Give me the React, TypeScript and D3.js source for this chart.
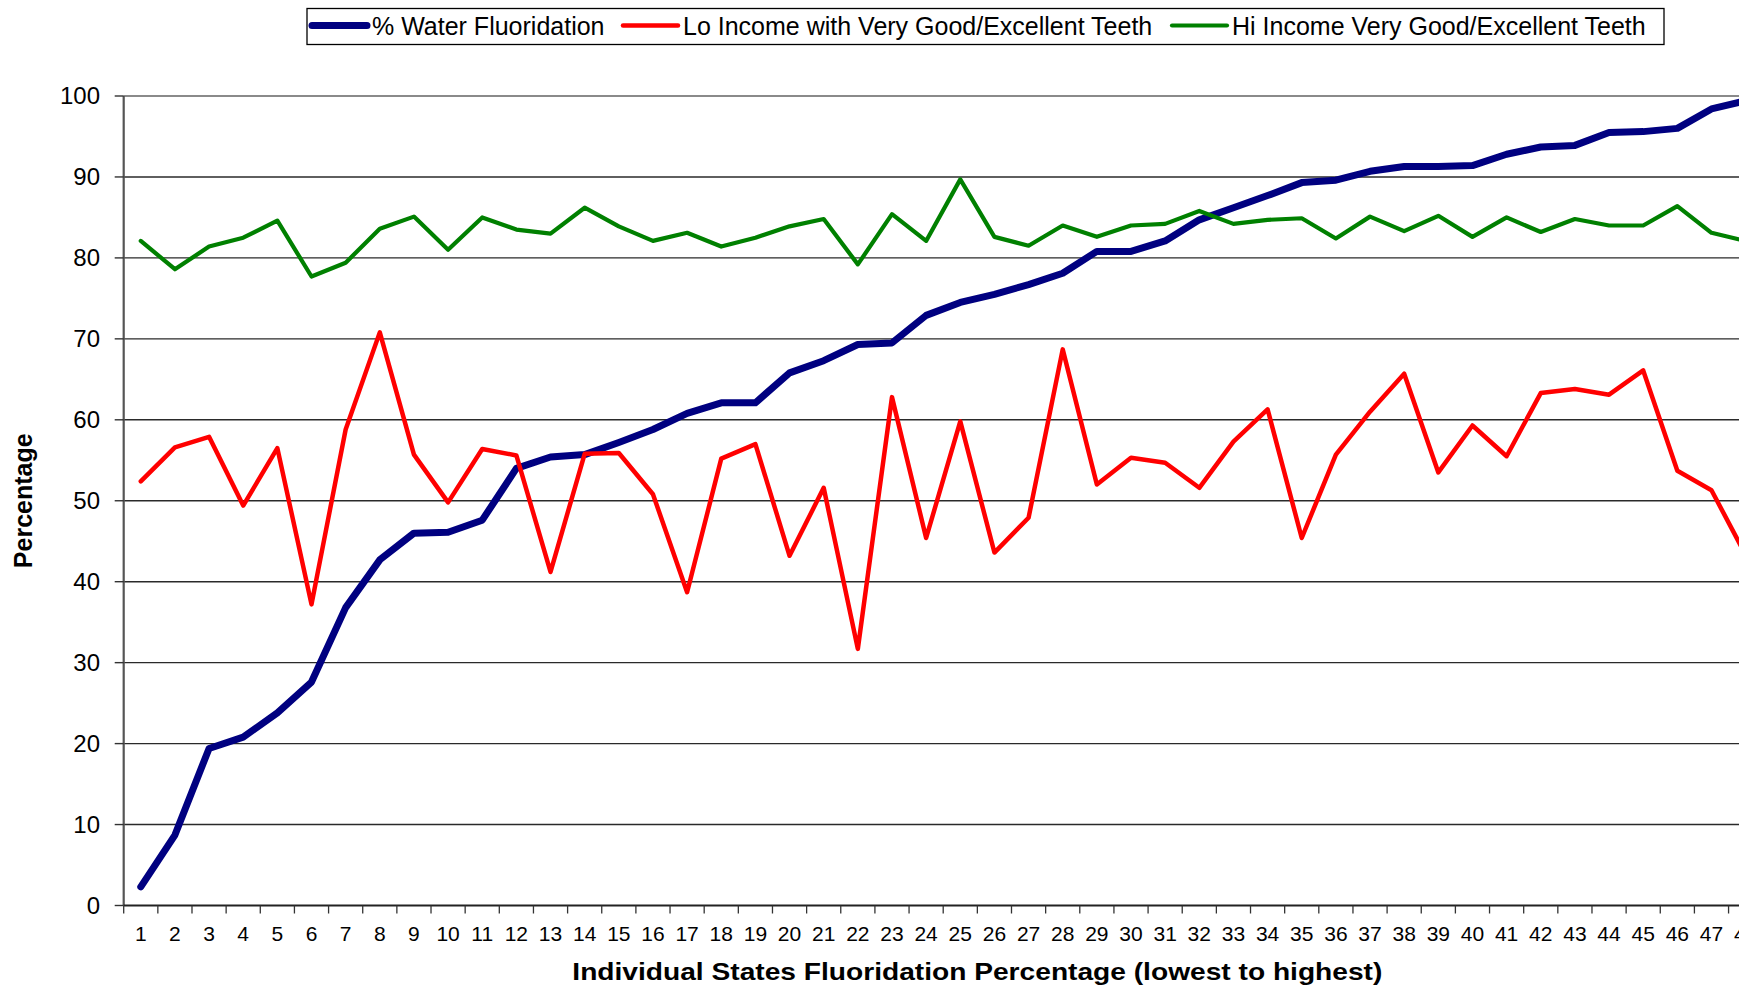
import React, { useEffect } from 'react';
import * as d3 from 'd3';

// states ranked by % of population on fluoridated water (lowest to highest)
const states = d3.range(1, 51);

const waterFluoridation = [
  2.3, 8.7, 19.4, 20.8, 23.8, 27.6, 36.8, 42.7, 46.0, 46.1,
  47.6, 54.0, 55.4, 55.7, 57.2, 58.8, 60.8, 62.1, 62.1, 65.8,
  67.3, 69.3, 69.5, 72.9, 74.5, 75.5, 76.7, 78.1, 80.8, 80.8,
  82.1, 84.7, 86.2, 87.7, 89.3, 89.6, 90.7, 91.3, 91.3, 91.4,
  92.8, 93.7, 93.9, 95.5, 95.6, 96.0, 98.4, 99.4,
];

const loIncomeTeeth = [
  52.4, 56.6, 57.9, 49.4, 56.5, 37.2, 58.8, 70.8, 55.7, 49.8,
  56.4, 55.6, 41.2, 55.8, 55.9, 50.8, 38.7, 55.2, 57.0, 43.2,
  51.6, 31.7, 62.8, 45.4, 59.8, 43.6, 47.9, 68.7, 52.0, 55.3,
  54.7, 51.6, 57.3, 61.3, 45.4, 55.7, 61.0, 65.7, 53.5, 59.3,
  55.5, 63.3, 63.8, 63.1, 66.1, 53.7, 51.3, 43.3,
];

const hiIncomeTeeth = [
  82.1, 78.6, 81.4, 82.5, 84.6, 77.7, 79.4, 83.6, 85.1, 81.0,
  85.0, 83.5, 83.0, 86.2, 83.9, 82.1, 83.1, 81.4, 82.5, 83.9,
  84.8, 79.2, 85.4, 82.1, 89.7, 82.6, 81.5, 84.0, 82.6, 84.0,
  84.2, 85.8, 84.2, 84.7, 84.9, 82.4, 85.1, 83.3, 85.2, 82.6,
  85.0, 83.2, 84.8, 84.0, 84.0, 86.4, 83.1, 82.1,
];

const yTicks = [0, 10, 20, 30, 40, 50, 60, 70, 80, 90, 100];

const seriesNames = [
  '% Water Fluoridation',
  'Lo Income with Very Good/Excellent Teeth',
  'Hi Income Very Good/Excellent Teeth',
];

const W = 1739;
const H = 989;
const left = 123.7;
const right = 1831; // plot runs past the picture edge
const top = 96;
const bottom = 905.5;

export default function App() {
  useEffect(() => {
    document.body.style.margin = '0';
  }, []);

  const x = d3
    .scaleBand<number>()
    .domain(states)
    .range([left, right])
    .padding(0);
  const bw = x.bandwidth();
  const y = d3.scaleLinear().domain([0, 100]).range([bottom, top]);

  const line = d3
    .line<number>()
    .x((d, i) => (x(states[i]) as number) + bw / 2)
    .y((d) => y(d));

  const series = [
    { name: seriesNames[0], values: waterFluoridation, color: '#000080', width: 7 },
    { name: seriesNames[1], values: loIncomeTeeth, color: '#FF0000', width: 4.5 },
    { name: seriesNames[2], values: hiIncomeTeeth, color: '#008000', width: 4.2 },
  ];

  const legendX = [312, 623, 1172];
  const font = 'Arial, "Liberation Sans", sans-serif';

  return (
    <svg
      width={W}
      height={H}
      style={{ position: 'absolute', left: 0, top: 0, background: '#fff' }}
      fontFamily={font}
    >
      <rect width={W} height={H} fill="#fff" />

      {/* gridlines */}
      {yTicks
        .filter((t) => t > 0 && t < 100)
        .map((t) => (
          <line
            key={'g' + t}
            x1={left}
            x2={right}
            y1={y(t)}
            y2={y(t)}
            stroke="#2a2a2a"
            strokeWidth={1.4}
          />
        ))}
      <line x1={left} x2={right} y1={y(100)} y2={y(100)} stroke="#8a8a8a" strokeWidth={2.2} />

      {/* y axis */}
      <line x1={left} x2={left} y1={top} y2={bottom} stroke="#555" strokeWidth={2.2} />
      {yTicks.map((t) => (
        <g key={'y' + t}>
          <line x1={left - 9} x2={left} y1={y(t)} y2={y(t)} stroke="#333" strokeWidth={1.4} />
          <text x={100} y={y(t)} dy="0.35em" textAnchor="end" fontSize={24} fill="#000">
            {t}
          </text>
        </g>
      ))}

      {/* x axis */}
      <line x1={left} x2={right} y1={bottom} y2={bottom} stroke="#222" strokeWidth={2} />
      {states.map((s) => (
        <g key={'x' + s}>
          <line
            x1={(x(s) as number) + bw}
            x2={(x(s) as number) + bw}
            y1={bottom}
            y2={bottom + 8}
            stroke="#333"
            strokeWidth={1.3}
          />
          <text
            x={(x(s) as number) + bw / 2}
            y={941}
            textAnchor="middle"
            fontSize={21}
            fill="#000"
          >
            {s}
          </text>
        </g>
      ))}
      <line x1={left} x2={left} y1={bottom} y2={bottom + 8} stroke="#333" strokeWidth={1.3} />

      {/* series */}
      {series.map((s) => (
        <path
          key={s.name}
          d={line(s.values) || ''}
          fill="none"
          stroke={s.color}
          strokeWidth={s.width}
          strokeLinejoin="round"
          strokeLinecap="round"
        />
      ))}

      {/* axis titles */}
      <text
        x={(left + right) / 2}
        y={980}
        textAnchor="middle"
        fontSize={24}
        fontWeight="bold"
        textLength={810}
        lengthAdjust="spacingAndGlyphs"
      >
        Individual States Fluoridation Percentage (lowest to highest)
      </text>
      <text
        transform={`translate(32,${(top + bottom) / 2}) rotate(-90)`}
        textAnchor="middle"
        fontSize={25}
        fontWeight="bold"
      >
        Percentage
      </text>

      {/* legend */}
      <rect x={307} y={8.5} width={1357} height={36} fill="#fff" stroke="#000" strokeWidth={1.3} />
      {series.map((s, i) => (
        <g key={'l' + i}>
          <line
            x1={legendX[i]}
            x2={legendX[i] + 55}
            y1={25.5}
            y2={25.5}
            stroke={s.color}
            strokeWidth={s.width}
            strokeLinecap="round"
          />
          <text x={legendX[i] + 60} y={35} fontSize={25} fill="#000">
            {s.name}
          </text>
        </g>
      ))}
    </svg>
  );
}
